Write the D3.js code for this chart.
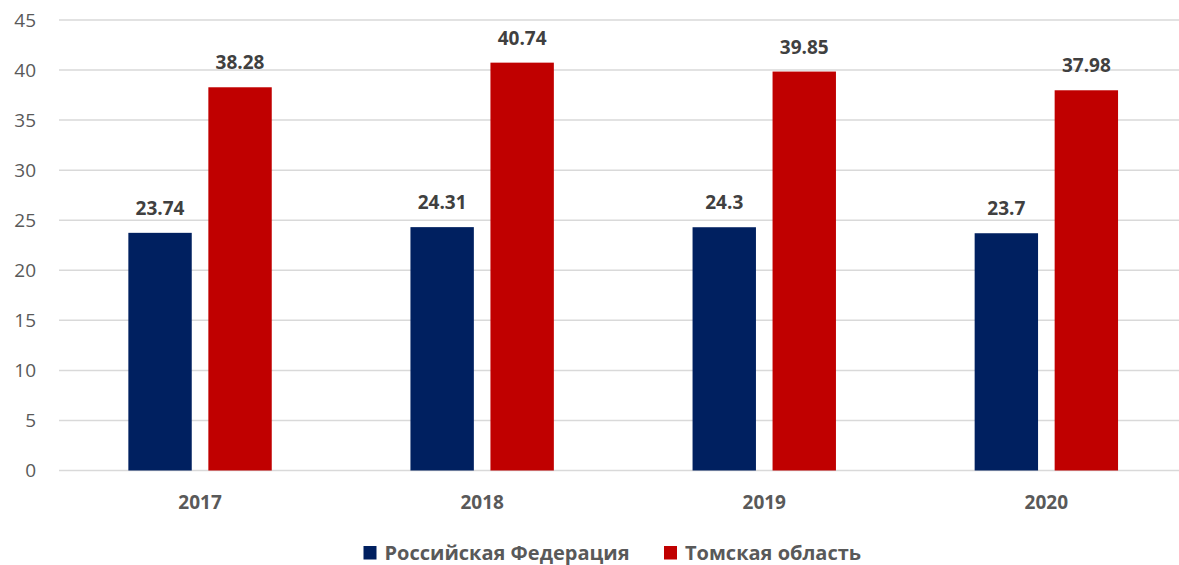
<!DOCTYPE html>
<html>
<head>
<meta charset="utf-8">
<script src="https://cdn.jsdelivr.net/npm/d3@7"></script>
<style>
  body { margin: 0; background: #fff; }
  svg { display: block; font-family: "Open Sans", sans-serif; }
</style>
</head>
<body>
<div class="chart"></div>
<script>
var years = ["2017", "2018", "2019", "2020"];
var seriesNames = ["Российская Федерация", "Томская область"];
var russia = [23.74, 24.31, 24.3, 23.7];
var tomsk = [38.28, 40.74, 39.85, 37.98];
var colors = ["#002060", "#C00000"];
var yTicks = [0, 5, 10, 15, 20, 25, 30, 35, 40, 45];

var svgWidth = 1179;
var svgHeight = 565;

var svg = d3.select(".chart")
  .append("svg")
  .attr("width", svgWidth)
  .attr("height", svgHeight);

var xScale = d3.scaleBand()
  .domain(years)
  .range([59, 1187.4])
  .paddingInner(0)
  .paddingOuter(0);

var inner = d3.scaleBand()
  .domain([0, 1])
  .range([0, 143.4])
  .paddingInner(0.2075);

var yScale = d3.scaleLinear()
  .domain([0, 45])
  .range([470.5, 20]);

// gridlines
svg.append("g")
  .selectAll("line")
  .data(yTicks)
  .enter()
  .append("line")
  .attr("x1", 59)
  .attr("x2", svgWidth)
  .attr("y1", d => yScale(d))
  .attr("y2", d => yScale(d))
  .attr("stroke", "#d9d9d9")
  .attr("stroke-width", 1.5);

// y tick labels
svg.append("g")
  .selectAll("text")
  .data(yTicks)
  .enter()
  .append("text")
  .attr("x", 36)
  .attr("y", d => yScale(d))
  .attr("dy", "0.35em")
  .attr("text-anchor", "end")
  .attr("font-size", 19)
  .attr("fill", "#595959")
  .text(d => d);

var series = [russia, tomsk];

series.forEach(function(vals, s) {
  var g = svg.append("g");
  g.selectAll("rect")
    .data(vals)
    .enter()
    .append("rect")
    .attr("x", (d, i) => xScale(years[i]) + xScale.bandwidth() / 2 - 71.7 + inner(s))
    .attr("y", d => yScale(d))
    .attr("width", inner.bandwidth())
    .attr("height", d => yScale(0) - yScale(d))
    .attr("fill", colors[s]);

  g.selectAll("text")
    .data(vals)
    .enter()
    .append("text")
    .attr("x", (d, i) => xScale(years[i]) + xScale.bandwidth() / 2 - 71.7 + inner(s) + inner.bandwidth() / 2)
    .attr("y", d => yScale(d) - 18)
    .attr("text-anchor", "middle")
    .attr("font-size", 19)
    .attr("font-weight", "bold")
    .attr("fill", "#404040")
    .text(d => d);
});

// x labels
svg.append("g")
  .selectAll("text")
  .data(years)
  .enter()
  .append("text")
  .attr("x", d => xScale(d) + xScale.bandwidth() / 2)
  .attr("y", 509)
  .attr("text-anchor", "middle")
  .attr("font-size", 19)
  .attr("font-weight", "bold")
  .attr("fill", "#595959")
  .text(d => d);

// legend
var legendX = [363.5, 664];
var legend = svg.append("g")
  .selectAll("g")
  .data(seriesNames)
  .enter()
  .append("g")
  .attr("transform", (d, i) => `translate(${legendX[i]}, 546)`);

legend.append("rect")
  .attr("width", 13)
  .attr("height", 13.5)
  .attr("fill", (d, i) => colors[i]);

legend.append("text")
  .attr("x", 21)
  .attr("y", 13.5)
  .attr("font-size", 20)
  .attr("font-weight", "bold")
  .attr("fill", "#595959")
  .text(d => d);
</script>
</body>
</html>
